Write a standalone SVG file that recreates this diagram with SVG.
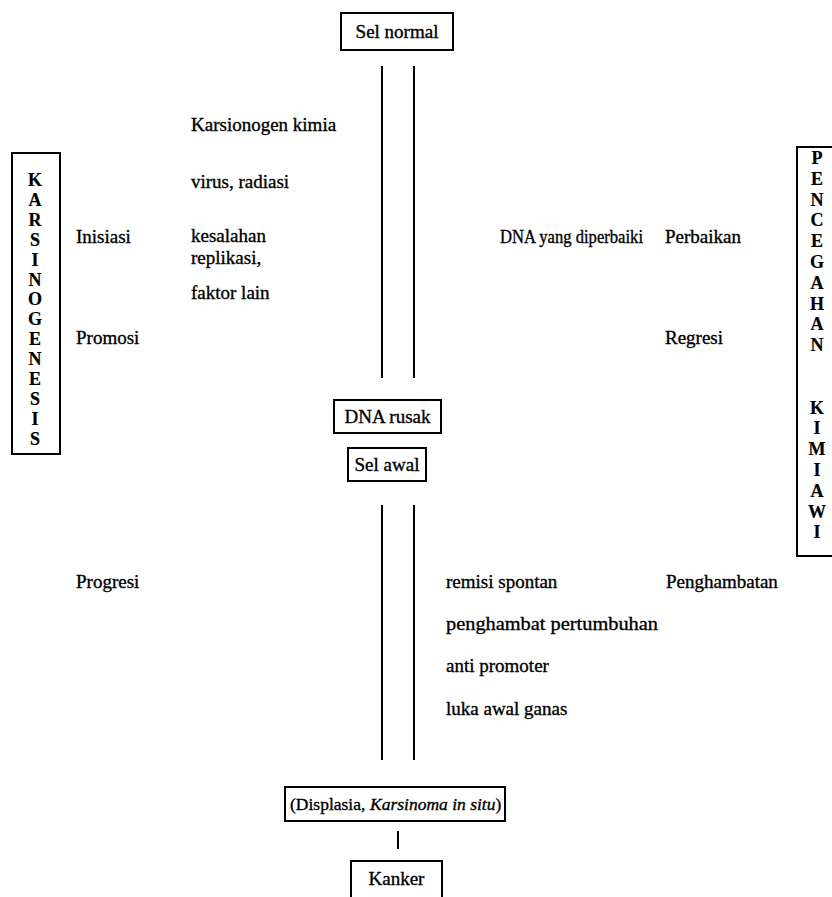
<svg xmlns="http://www.w3.org/2000/svg" width="832" height="897" viewBox="0 0 832 897">
<style>
  text { font-family: "Liberation Serif", "Times New Roman", serif; font-size: 19px; fill: #000; stroke: #000; stroke-width: 0.35; }
  .it { font-style: italic; }
  .sm { font-size: 17.5px; }
  .mid { text-anchor: middle; }
  .vert { font-weight: bold; font-size: 18px; text-anchor: middle; stroke-width: 0.2; }
  .box { fill: #fff; stroke: #000; stroke-width: 2; }
  .ln { stroke: #000; stroke-width: 2; fill: none; }
</style>
<rect width="832" height="897" fill="#fff"/>

<g id="connectors">
  <line class="ln" x1="382" y1="66" x2="382" y2="378"/>
  <line class="ln" x1="414" y1="66" x2="414" y2="378"/>
  <line class="ln" x1="382" y1="505" x2="382" y2="760"/>
  <line class="ln" x1="414" y1="505" x2="414" y2="760"/>
  <line class="ln" x1="398" y1="831" x2="398" y2="849"/>
</g>

<g id="sel-normal">
  <rect class="box" x="341" y="13" width="112" height="37"/>
  <text class="mid" x="397" y="38">Sel normal</text>
</g>

<g id="dna-rusak">
  <rect class="box" x="334" y="400" width="107" height="33"/>
  <text class="mid" x="387.5" y="423">DNA rusak</text>
</g>

<g id="sel-awal">
  <rect class="box" x="348" y="448" width="78" height="33"/>
  <text class="mid" x="387" y="471">Sel awal</text>
</g>

<g id="displasia">
  <rect class="box" x="285" y="787" width="220" height="34"/>
  <text class="sm" x="290" y="810">(Displasia,</text>
  <text class="sm it" x="370" y="810">Karsinoma in situ</text>
  <text class="sm" x="495.5" y="810">)</text>
</g>

<g id="kanker">
  <rect class="box" x="351" y="861" width="91" height="40"/>
  <text class="mid" x="396.5" y="885">Kanker</text>
</g>

<g id="karsinogenesis">
  <rect class="box" x="12" y="153" width="48" height="301"/>
  <text class="vert" x="35" y="186">K<tspan x="35" dy="19.9">A</tspan><tspan x="35" dy="19.9">R</tspan><tspan x="35" dy="19.9">S</tspan><tspan x="35" dy="19.9">I</tspan><tspan x="35" dy="19.9">N</tspan><tspan x="35" dy="19.9">O</tspan><tspan x="35" dy="19.9">G</tspan><tspan x="35" dy="19.9">E</tspan><tspan x="35" dy="19.9">N</tspan><tspan x="35" dy="19.9">E</tspan><tspan x="35" dy="19.9">S</tspan><tspan x="35" dy="19.9">I</tspan><tspan x="35" dy="19.9">S</tspan></text>
</g>

<g id="pencegahan-kimiawi">
  <rect class="box" x="797" y="147" width="50" height="409"/>
  <text class="vert" x="817" y="164">P<tspan x="817" dy="20.8">E</tspan><tspan x="817" dy="20.8">N</tspan><tspan x="817" dy="20.8">C</tspan><tspan x="817" dy="20.8">E</tspan><tspan x="817" dy="20.8">G</tspan><tspan x="817" dy="20.8">A</tspan><tspan x="817" dy="20.8">H</tspan><tspan x="817" dy="20.8">A</tspan><tspan x="817" dy="20.8">N</tspan><tspan x="817" dy="62.4">K</tspan><tspan x="817" dy="20.8">I</tspan><tspan x="817" dy="20.8">M</tspan><tspan x="817" dy="20.8">I</tspan><tspan x="817" dy="20.8">A</tspan><tspan x="817" dy="20.8">W</tspan><tspan x="817" dy="20.8">I</tspan></text>
</g>

<g id="labels">
  <text x="191" y="131">Karsionogen kimia</text>
  <text x="191" y="188">virus, radiasi</text>
  <text x="76" y="243">Inisiasi</text>
  <text x="191" y="242">kesalahan</text>
  <text x="191" y="264">replikasi,</text>
  <text x="191" y="299">faktor lain</text>
  <text x="76" y="344">Promosi</text>
  <text x="500" y="243" textLength="143" lengthAdjust="spacingAndGlyphs">DNA yang diperbaiki</text>
  <text x="665" y="243">Perbaikan</text>
  <text x="665" y="344">Regresi</text>
  <text x="76" y="588">Progresi</text>
  <text x="446" y="588">remisi spontan</text>
  <text x="666" y="588">Penghambatan</text>
  <text x="446" y="630" textLength="212" lengthAdjust="spacingAndGlyphs">penghambat pertumbuhan</text>
  <text x="446" y="672">anti promoter</text>
  <text x="446" y="715">luka awal ganas</text>
</g>
</svg>
